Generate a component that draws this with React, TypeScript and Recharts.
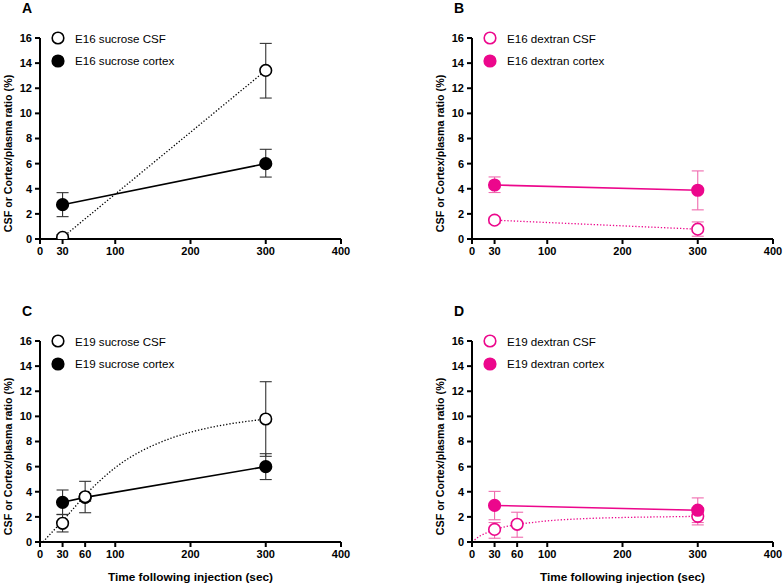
import { ComposedChart, ErrorBar, Legend, Line, XAxis, YAxis } from 'recharts';

const FONT = '"Liberation Sans", Arial, Helvetica, sans-serif';
const BLACK = '#000000';
const BLACK_BAR = '#333333';
const PINK = '#ec078c';
const PINK_BAR = '#ef6aae';

const Y_TICKS = [0, 2, 4, 6, 8, 10, 12, 14, 16];
const X_TICKS_E16 = [0, 30, 100, 200, 300, 400];
const X_TICKS_E19 = [0, 30, 60, 100, 200, 300, 400];

const Y_TITLE = 'CSF or Cortex/plasma ratio (%)';
const X_TITLE = 'Time following injection (sec)';

// A - E16 sucrose
const e16Times = [30, 300];
const e16SucroseCsf = [0.13, 13.42];
const e16SucroseCsfLow = [0.0, 11.22];
const e16SucroseCsfHigh = [0.35, 15.57];
const e16SucroseCortex = [2.73, 6.0];
const e16SucroseCortexLow = [1.78, 4.93];
const e16SucroseCortexHigh = [3.69, 7.14];

// B - E16 dextran
const e16DextranCsf = [1.5, 0.78];
const e16DextranCsfLow = [1.25, 0.22];
const e16DextranCsfHigh = [1.75, 1.36];
const e16DextranCortex = [4.3, 3.88];
const e16DextranCortexLow = [3.7, 2.32];
const e16DextranCortexHigh = [4.94, 5.42];

// C - E19 sucrose
const e19Times = [30, 60, 300];
const e19SucroseCsf = [1.49, 3.6, 9.79];
const e19SucroseCsfLow = [0.8, 2.33, 6.82];
const e19SucroseCsfHigh = [2.18, 4.83, 12.76];
const e19SucroseCortex = [3.16, 3.55, 6.0];
const e19SucroseCortexLow = [2.2, 3.25, 4.97];
const e19SucroseCortexHigh = [4.14, 3.85, 7.03];
const e19SucroseFitTimes = [4, 15, 30, 45, 60, 80, 100, 125, 150, 175, 200, 225, 250, 275, 300];
const e19SucroseFit = [0, 0.72, 1.68, 2.7, 3.72, 4.9, 5.92, 6.92, 7.68, 8.28, 8.74, 9.1, 9.38, 9.6, 9.78];

// D - E19 dextran
const e19DextranCsf = [1.0, 1.41, 2.04];
const e19DextranCsfLow = [0.3, 0.38, 1.36];
const e19DextranCsfHigh = [1.55, 2.37, 2.72];
const e19DextranCortex = [2.91, 2.53];
const e19DextranCortexLow = [1.77, 1.55];
const e19DextranCortexHigh = [4.03, 3.51];
const e19DextranCortexTimes = [30, 300];
const e19DextranFitTimes = [0, 10, 20, 30, 45, 60, 80, 100, 150, 200, 250, 300];
const e19DextranFit = [0, 0.45, 0.75, 0.98, 1.22, 1.4, 1.55, 1.68, 1.86, 1.95, 2.0, 2.04];

type Row = { t: number; v: number; err?: [number, number] };

const rows = (ts: number[], vs: number[], lo: number[], hi: number[]): Row[] =>
  ts.map((t, i) => ({ t, v: vs[i], err: [vs[i] - lo[i], hi[i] - vs[i]] }));

const curve = (ts: number[], vs: number[]): Row[] => ts.map((t, i) => ({ t, v: vs[i] }));

type Series = {
  name: string;
  data: Row[];
  color: string;
  barColor: string;
  filled: boolean;
  dotted: boolean;
  connect: boolean;
};

type PanelProps = {
  letter: string;
  left: number;
  top: number;
  width: number;
  marginTop: number;
  marginRight: number;
  xTicks: number[];
  series: Series[];
  legend: Series[];
  fit?: Row[];
  fitColor?: string;
  xTitle?: boolean;
};

const makeDot = (s: Series) => (props: any) => {
  const { cx, cy, index } = props;
  if (cx == null || cy == null) return <g key={index} />;
  return (
    <circle
      key={index}
      cx={cx}
      cy={cy}
      r={5.8}
      fill={s.filled ? s.color : '#ffffff'}
      stroke={s.color}
      strokeWidth={1.6}
    />
  );
};

const YTitle = (props: any) => {
  const { viewBox } = props;
  const x = viewBox.x + 8;
  const y = viewBox.y + viewBox.height / 2 + 15;
  return (
    <text
      x={x}
      y={y}
      transform={`rotate(-90 ${x} ${y})`}
      textAnchor="middle"
      dominantBaseline="central"
      fontFamily={FONT}
      fontWeight={700}
      fontSize={10.7}
      fill="#000"
    >
      {Y_TITLE}
    </text>
  );
};

const XTitle = (props: any) => {
  const { viewBox } = props;
  return (
    <text
      x={viewBox.x + viewBox.width / 2}
      y={viewBox.y + 35}
      textAnchor="middle"
      dominantBaseline="central"
      fontFamily={FONT}
      fontWeight={700}
      fontSize={11.8}
      fill="#000"
    >
      {X_TITLE}
    </text>
  );
};

function LegendBox({ items }: { items: Series[] }) {
  return (
    <div style={{ fontFamily: FONT, fontSize: 11.6, color: '#000' }}>
      {items.map((s) => (
        <div key={s.name} style={{ display: 'flex', alignItems: 'center', height: 22.5 }}>
          <svg width={14} height={14} style={{ flex: 'none' }}>
            <circle cx={7} cy={7} r={5.8} fill={s.filled ? s.color : '#fff'} stroke={s.color} strokeWidth={1.6} />
          </svg>
          <span style={{ marginLeft: 10, whiteSpace: 'nowrap' }}>{s.name}</span>
        </div>
      ))}
    </div>
  );
}

function Panel(p: PanelProps) {
  const axisLine = { stroke: '#000', strokeWidth: 2 };
  const tick = { fill: '#000', fontSize: 11, fontWeight: 700, fontFamily: FONT };
  const bottom = 250 - p.marginTop - 201;
  return (
    <div style={{ position: 'absolute', left: p.left, top: p.top }}>
      <div
        style={{
          position: 'absolute',
          left: 22,
          top: p.marginTop - 38,
          fontFamily: FONT,
          fontWeight: 700,
          fontSize: 14,
          lineHeight: '16px',
        }}
      >
        {p.letter}
      </div>
      <ComposedChart
        width={p.width}
        height={292}
        margin={{ top: p.marginTop, right: p.marginRight, bottom, left: 0 }}
      >
        <XAxis
          type="number"
          dataKey="t"
          domain={[0, 400]}
          ticks={p.xTicks}
          interval={0}
          allowDataOverflow
          height={42}
          tickSize={5}
          tickMargin={3}
          axisLine={axisLine}
          tickLine={axisLine}
          tick={tick}
          label={p.xTitle ? { content: XTitle } : undefined}
        />
        <YAxis
          type="number"
          domain={[0, 16]}
          ticks={Y_TICKS}
          interval={0}
          allowDataOverflow
          width={40}
          tickSize={5}
          tickMargin={3}
          axisLine={axisLine}
          tickLine={axisLine}
          tick={tick}
          label={{ content: YTitle }}
        />
        {p.fit && (
          <Line
            data={p.fit}
            dataKey="v"
            type="monotone"
            stroke={p.fitColor}
            strokeWidth={1.3}
            strokeDasharray="1.3 1.9"
            dot={false}
            activeDot={false}
            isAnimationActive={false}
            legendType="none"
          />
        )}
        {p.series.map((s) => (
          <Line
            key={s.name}
            name={s.name}
            data={s.data}
            dataKey="v"
            type="linear"
            stroke={s.connect ? s.color : 'none'}
            strokeWidth={s.dotted ? 1.3 : 1.6}
            strokeDasharray={s.dotted ? '1.3 1.9' : undefined}
            dot={makeDot(s)}
            activeDot={false}
            isAnimationActive={false}
          >
            <ErrorBar
              dataKey="err"
              direction="y"
              width={6}
              stroke={s.barColor}
              strokeWidth={1.1}
              isAnimationActive={false}
            />
          </Line>
        ))}
        <Legend
          layout="vertical"
          align="center"
          verticalAlign="middle"
          wrapperStyle={{ left: 51, top: p.marginTop - 11, width: 220 }}
          content={() => <LegendBox items={p.legend} />}
        />
      </ComposedChart>
    </div>
  );
}

const aCsf: Series = {
  name: 'E16 sucrose CSF',
  data: rows(e16Times, e16SucroseCsf, e16SucroseCsfLow, e16SucroseCsfHigh),
  color: BLACK, barColor: BLACK_BAR, filled: false, dotted: true, connect: true,
};
const aCortex: Series = {
  name: 'E16 sucrose cortex',
  data: rows(e16Times, e16SucroseCortex, e16SucroseCortexLow, e16SucroseCortexHigh),
  color: BLACK, barColor: BLACK_BAR, filled: true, dotted: false, connect: true,
};
const bCsf: Series = {
  name: 'E16 dextran CSF',
  data: rows(e16Times, e16DextranCsf, e16DextranCsfLow, e16DextranCsfHigh),
  color: PINK, barColor: PINK_BAR, filled: false, dotted: true, connect: true,
};
const bCortex: Series = {
  name: 'E16 dextran cortex',
  data: rows(e16Times, e16DextranCortex, e16DextranCortexLow, e16DextranCortexHigh),
  color: PINK, barColor: PINK_BAR, filled: true, dotted: false, connect: true,
};
const cCsf: Series = {
  name: 'E19 sucrose CSF',
  data: rows(e19Times, e19SucroseCsf, e19SucroseCsfLow, e19SucroseCsfHigh),
  color: BLACK, barColor: BLACK_BAR, filled: false, dotted: false, connect: false,
};
const cCortex: Series = {
  name: 'E19 sucrose cortex',
  data: rows(e19Times, e19SucroseCortex, e19SucroseCortexLow, e19SucroseCortexHigh),
  color: BLACK, barColor: BLACK_BAR, filled: true, dotted: false, connect: true,
};
const dCsf: Series = {
  name: 'E19 dextran CSF',
  data: rows(e19Times, e19DextranCsf, e19DextranCsfLow, e19DextranCsfHigh),
  color: PINK, barColor: PINK_BAR, filled: false, dotted: false, connect: false,
};
const dCortex: Series = {
  name: 'E19 dextran cortex',
  data: rows(e19DextranCortexTimes, e19DextranCortex, e19DextranCortexLow, e19DextranCortexHigh),
  color: PINK, barColor: PINK_BAR, filled: true, dotted: false, connect: true,
};

export default function App() {
  return (
    <div style={{ position: 'absolute', left: 0, top: 0, width: 783, height: 584, background: '#fff' }}>
      <Panel letter="A" left={0} top={0} width={370} marginTop={38} marginRight={29}
        xTicks={X_TICKS_E16} series={[aCsf, aCortex]} legend={[aCsf, aCortex]} />
      <Panel letter="B" left={432} top={0} width={351} marginTop={38} marginRight={10}
        xTicks={X_TICKS_E16} series={[bCsf, bCortex]} legend={[bCsf, bCortex]} />
      <Panel letter="C" left={0} top={292} width={370} marginTop={49} marginRight={29}
        xTicks={X_TICKS_E19} series={[cCortex, cCsf]} legend={[cCsf, cCortex]}
        fit={curve(e19SucroseFitTimes, e19SucroseFit)} fitColor={BLACK} xTitle />
      <Panel letter="D" left={432} top={292} width={351} marginTop={49} marginRight={10}
        xTicks={X_TICKS_E19} series={[dCsf, dCortex]} legend={[dCsf, dCortex]}
        fit={curve(e19DextranFitTimes, e19DextranFit)} fitColor={PINK} xTitle />
    </div>
  );
}
